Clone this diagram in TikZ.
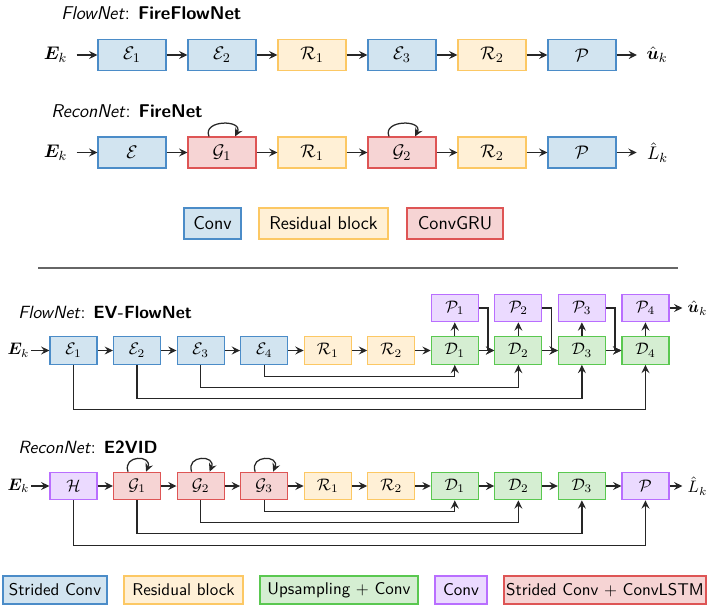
\documentclass[tikz,border=0pt]{standalone}
\usepackage{amsmath,bm}
\usetikzlibrary{arrows.meta,calc}
\definecolor{bfill}{RGB}{210,228,240}\definecolor{bdraw}{RGB}{75,140,200}
\definecolor{ofill}{RGB}{255,240,214}\definecolor{odraw}{RGB}{252,200,100}
\definecolor{rfill}{RGB}{246,212,212}\definecolor{rdraw}{RGB}{222,85,85}
\definecolor{gfill}{RGB}{213,238,210}\definecolor{gdraw}{RGB}{90,200,80}
\definecolor{pfill}{RGB}{235,218,255}\definecolor{pdraw}{RGB}{185,110,255}
\def\u{0.6pt}
\tikzset{
  blk/.style={draw, line width=0.7pt, inner sep=0pt},
  big/.style={minimum width=68*\u, minimum height=31*\u, font=\fontsize{11.1}{13}\selectfont},
  sml/.style={minimum width=47*\u, minimum height=27.5*\u, font=\fontsize{10.2}{12}\selectfont},
  cb/.style={fill=bfill, draw=bdraw},
  co/.style={fill=ofill, draw=odraw},
  cr/.style={fill=rfill, draw=rdraw},
  cg/.style={fill=gfill, draw=gdraw},
  cp/.style={fill=pfill, draw=pdraw},
  arr/.style={-{Stealth[length=5pt,width=4.8pt,inset=1.8pt]}, line width=0.75pt, draw=black!85},
  lbl/.style={inner sep=1pt},
  ttl/.style={anchor=west, inner sep=0pt, font=\sffamily\fontsize{11.1}{13}\selectfont},
  ttlb/.style={anchor=west, inner sep=0pt, font=\sffamily\fontsize{10.6}{13}\selectfont},
  legt/.style={blk, minimum height=31*\u, font=\sffamily\fontsize{11.1}{13}\selectfont},
  legb/.style={blk, minimum height=28*\u, font=\sffamily\fontsize{10.2}{12}\selectfont},
}
\begin{document}
\begin{tikzpicture}[x=0.6pt, y=-0.6pt]
\useasboundingbox (0,0) rectangle (707,605);
% ---------------- FireFlowNet
\node[ttl] (t1) at (61,13) {\textit{FlowNet}: \textbf{FireFlowNet}};
\node[blk,big,cb] (a1) at (132,55) {$\mathcal{E}_1$};
\node[blk,big,cb] (a2) at (222,55) {$\mathcal{E}_2$};
\node[blk,big,co] (a3) at (312,55) {$\mathcal{R}_1$};
\node[blk,big,cb] (a4) at (402,55) {$\mathcal{E}_3$};
\node[blk,big,co] (a5) at (492,55) {$\mathcal{R}_2$};
\node[blk,big,cb] (a6) at (582,55) {$\mathcal{P}$};
\node[inner sep=5.5pt, font=\fontsize{11.1}{13}\selectfont] (ain) at (55.5,55) {$\bm{E}_k$};
\node[inner sep=5.5pt, font=\fontsize{11.1}{13}\selectfont] (aout) at (657,55) {$\hat{\bm{u}}_k$};
\draw[arr] (ain) -- (a1);
\draw[arr] (a1) -- (a2);
\draw[arr] (a2) -- (a3);
\draw[arr] (a3) -- (a4);
\draw[arr] (a4) -- (a5);
\draw[arr] (a5) -- (a6);
\draw[arr] (a6) -- (aout);
% ---------------- FireNet
\node[ttl] (t2) at (51,111) {\textit{ReconNet}: \textbf{FireNet}};
\node[blk,big,cb] (b1) at (132,152.5) {$\mathcal{E}$};
\node[blk,big,cr] (b2) at (222,152.5) {$\mathcal{G}_1$};
\node[blk,big,co] (b3) at (312,152.5) {$\mathcal{R}_1$};
\node[blk,big,cr] (b4) at (402,152.5) {$\mathcal{G}_2$};
\node[blk,big,co] (b5) at (492,152.5) {$\mathcal{R}_2$};
\node[blk,big,cb] (b6) at (582,152.5) {$\mathcal{P}$};
\node[inner sep=5.5pt, font=\fontsize{11.1}{13}\selectfont] (bin) at (55.5,152.5) {$\bm{E}_k$};
\node[inner sep=6pt, font=\fontsize{11.1}{13}\selectfont] (bout) at (657.5,152.5) {$\hat{L}_k$};
\draw[arr] (bin) -- (b1);
\draw[arr] (b1) -- (b2);
\draw[arr] (b2) -- (b3);
\draw[arr] (b3) -- (b4);
\draw[arr] (b4) -- (b5);
\draw[arr] (b5) -- (b6);
\draw[arr] (b6) -- (bout);
\foreach \n in {b2,b4}{
  \draw[arr] ([xshift=-13*\u]\n.north) .. controls +(-7,-17) and +(9,-17) .. ([xshift=13*\u]\n.north);
}
% legend top
\node[legt,cb,minimum width=57*\u] (l1) at (212.5,223.5) {Conv};
\node[legt,co,minimum width=129*\u] (l2) at (323.5,223.5) {Residual block};
\node[legt,cr,minimum width=96*\u] (l3) at (455,223.5) {ConvGRU};
% separator
\draw[line width=0.8pt, draw=black!60] (38,268) -- (678,268);
% ---------------- EV-FlowNet
\node[ttlb] (t3) at (18,312) {\textit{FlowNet}: \textbf{EV-FlowNet}};
\node[blk,sml,cb] (e1) at (73.5,350.5) {$\mathcal{E}_1$};
\node[blk,sml,cb] (e2) at (137.05,350.5) {$\mathcal{E}_2$};
\node[blk,sml,cb] (e3) at (200.6,350.5) {$\mathcal{E}_3$};
\node[blk,sml,cb] (e4) at (264.15,350.5) {$\mathcal{E}_4$};
\node[blk,sml,co] (r1) at (327.7,350.5) {$\mathcal{R}_1$};
\node[blk,sml,co] (r2) at (391.25,350.5) {$\mathcal{R}_2$};
\node[blk,sml,cg] (d1) at (454.8,350.5) {$\mathcal{D}_1$};
\node[blk,sml,cg] (d2) at (518.35,350.5) {$\mathcal{D}_2$};
\node[blk,sml,cg] (d3) at (581.9,350.5) {$\mathcal{D}_3$};
\node[blk,sml,cg] (d4) at (645.45,350.5) {$\mathcal{D}_4$};
\node[blk,sml,cp] (p1) at (454.8,308) {$\mathcal{P}_1$};
\node[blk,sml,cp] (p2) at (518.35,308) {$\mathcal{P}_2$};
\node[blk,sml,cp] (p3) at (581.9,308) {$\mathcal{P}_3$};
\node[blk,sml,cp] (p4) at (645.45,308) {$\mathcal{P}_4$};
\node[lbl, font=\fontsize{10.2}{12}\selectfont] (ein) at (18.5,350.5) {$\bm{E}_k$};
\node[inner sep=3pt, font=\fontsize{10.2}{12}\selectfont] (eout) at (697.5,308) {$\hat{\bm{u}}_k$};
\draw[arr] (ein) -- (e1);
\draw[arr] (e1) -- (e2);
\draw[arr] (e2) -- (e3);
\draw[arr] (e3) -- (e4);
\draw[arr] (e4) -- (r1);
\draw[arr] (r1) -- (r2);
\draw[arr] (r2) -- (d1);
\draw[arr] (d1) -- (d2);
\draw[arr] (d2) -- (d3);
\draw[arr] (d3) -- (d4);
\draw[arr] (d1) -- (p1);
\draw[arr] (d2) -- (p2);
\draw[arr] (d3) -- (p3);
\draw[arr] (d4) -- (p4);
\draw[arr] (p4) -- (eout);
\draw[arr] (p1.east) -- ++(9,0) |- (d2.west);
\draw[arr] (p2.east) -- ++(9,0) |- (d3.west);
\draw[arr] (p3.east) -- ++(9,0) |- (d4.west);
\draw[arr] (e4.south) -- ++(0,12) -| (d1.south);
\draw[arr] (e3.south) -- ++(0,23) -| (d2.south);
\draw[arr] (e2.south) -- ++(0,34) -| (d3.south);
\draw[arr] (e1.south) -- ++(0,45) -| (d4.south);
% ---------------- E2VID
\node[ttlb] (t4) at (18,447) {\textit{ReconNet}: \textbf{E2VID}};
\node[blk,sml,cp] (h) at (73.5,486) {$\mathcal{H}$};
\node[blk,sml,cr] (g1) at (137.05,486) {$\mathcal{G}_1$};
\node[blk,sml,cr] (g2) at (200.6,486) {$\mathcal{G}_2$};
\node[blk,sml,cr] (g3) at (264.15,486) {$\mathcal{G}_3$};
\node[blk,sml,co] (s1) at (327.7,486) {$\mathcal{R}_1$};
\node[blk,sml,co] (s2) at (391.25,486) {$\mathcal{R}_2$};
\node[blk,sml,cg] (f1) at (454.8,486) {$\mathcal{D}_1$};
\node[blk,sml,cg] (f2) at (518.35,486) {$\mathcal{D}_2$};
\node[blk,sml,cg] (f3) at (581.9,486) {$\mathcal{D}_3$};
\node[blk,sml,cp] (pp) at (645.45,486) {$\mathcal{P}$};
\node[lbl, font=\fontsize{10.2}{12}\selectfont] (hin) at (18.5,486) {$\bm{E}_k$};
\node[inner sep=3pt, font=\fontsize{10.2}{12}\selectfont] (hout) at (697.5,486) {$\hat{L}_k$};
\draw[arr] (hin) -- (h);
\draw[arr] (h) -- (g1);
\draw[arr] (g1) -- (g2);
\draw[arr] (g2) -- (g3);
\draw[arr] (g3) -- (s1);
\draw[arr] (s1) -- (s2);
\draw[arr] (s2) -- (f1);
\draw[arr] (f1) -- (f2);
\draw[arr] (f2) -- (f3);
\draw[arr] (f3) -- (pp);
\draw[arr] (pp) -- (hout);
\foreach \n in {g1,g2,g3}{
  \draw[arr] ([xshift=-9*\u]\n.north) .. controls +(-6,-17) and +(7,-17) .. ([xshift=9*\u]\n.north);
}
\draw[arr] (g3.south) -- ++(0,11) -| (f1.south);
\draw[arr] (g2.south) -- ++(0,22) -| (f2.south);
\draw[arr] (g1.south) -- ++(0,33) -| (f3.south);
\draw[arr] (h.south) -- ++(0,45) -| (pp.south);
% legend bottom
\node[legb,cb,minimum width=104*\u] (m1) at (55,590) {Strided Conv};
\node[legb,co,minimum width=119*\u] (m2) at (183.5,590) {Residual block};
\node[legb,cg,minimum width=158*\u] (m3) at (339,590) {Upsampling $+$ Conv};
\node[legb,cp,minimum width=52*\u] (m4) at (461,590) {Conv};
\node[legb,cr,minimum width=202*\u] (m5) at (605,590) {Strided Conv $+$ ConvLSTM};
\end{tikzpicture}
\end{document}
